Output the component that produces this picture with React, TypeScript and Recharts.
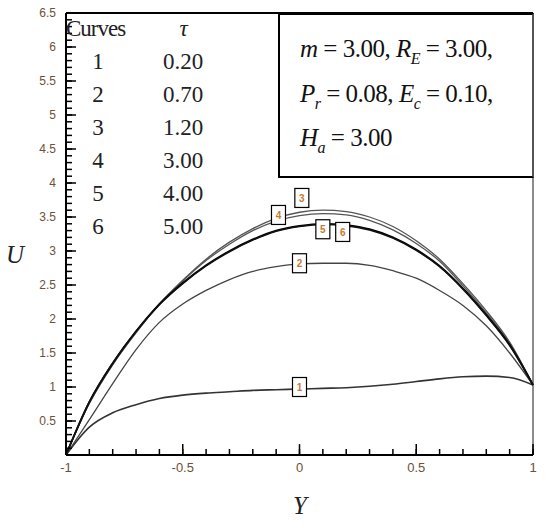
import { LineChart, Line, XAxis, YAxis, ReferenceLine, ReferenceDot } from 'recharts'

// Y positions across the channel
const yPos = [-1, -0.9, -0.8, -0.7, -0.6, -0.5, -0.4, -0.3, -0.2, -0.1, 0, 0.1, 0.2, 0.3, 0.4, 0.5, 0.6, 0.7, 0.8, 0.9, 1]

// velocity U for each curve (tau = 0.2, 0.7, 1.2, 3, 4, 5)
const u1 = [0, 0.41, 0.62, 0.74, 0.83, 0.88, 0.91, 0.93, 0.95, 0.96, 0.97, 0.98, 0.99, 1.01, 1.04, 1.08, 1.12, 1.15, 1.16, 1.14, 1.03]
const u2 = [0, 0.52, 1.05, 1.55, 1.95, 2.22, 2.42, 2.58, 2.7, 2.77, 2.81, 2.82, 2.82, 2.79, 2.71, 2.6, 2.42, 2.2, 1.9, 1.5, 1.03]
const u3 = [0, 0.76, 1.33, 1.8, 2.22, 2.57, 2.88, 3.13, 3.33, 3.48, 3.57, 3.6, 3.58, 3.5, 3.36, 3.15, 2.88, 2.52, 2.12, 1.66, 1.03]
const u4 = [0, 0.76, 1.33, 1.8, 2.22, 2.56, 2.86, 3.1, 3.3, 3.44, 3.52, 3.55, 3.53, 3.45, 3.31, 3.11, 2.85, 2.49, 2.09, 1.64, 1.03]
const u5 = [0, 0.78, 1.35, 1.82, 2.22, 2.53, 2.79, 3.0, 3.17, 3.3, 3.37, 3.4, 3.38, 3.32, 3.2, 3.02, 2.78, 2.45, 2.06, 1.62, 1.03]
const u6 = [0, 0.78, 1.35, 1.82, 2.21, 2.52, 2.78, 2.99, 3.16, 3.29, 3.36, 3.39, 3.37, 3.31, 3.19, 3.01, 2.77, 2.44, 2.05, 1.61, 1.03]

const curveNames = ['1', '2', '3', '4', '5', '6']
const tauValues = ['0.20', '0.70', '1.20', '3.00', '4.00', '5.00']

// curve number tags
const tagX = [0, 0, 0.01, -0.09, 0.1, 0.185]
const tagY = [1.0, 2.82, 3.78, 3.53, 3.32, 3.28]

const xMajor = [-1, -0.5, 0, 0.5, 1]
const yMajor = [0.5, 1, 1.5, 2, 2.5, 3, 3.5, 4, 4.5, 5, 5.5, 6, 6.5]

const data = yPos.map((y, i) => ({ y, c1: u1[i], c2: u2[i], c3: u3[i], c4: u4[i], c5: u5[i], c6: u6[i] }))

const xMinor: number[] = []
for (let i = -10; i <= 10; i++) xMinor.push(i / 10)
const yMinor: number[] = []
for (let i = 0; i <= 65; i++) yMinor.push(i / 10)

const isMajor = (v: number, list: number[]) => list.some((m) => Math.abs(m - v) < 1e-6)

const tickColor = '#6e5038'
const tickFont = { fontSize: 12, fontFamily: 'Liberation Sans, Arial', fill: tickColor }
const tickStroke = { stroke: '#000', strokeWidth: 1.5 }

const makeTag = (label: string) => (p: any) => (
  <g>
    <rect x={p.cx - 7} y={p.cy - 9.5} width={14} height={19} fill="#fff" stroke="#000" strokeWidth={1.2} />
    <text x={p.cx} y={p.cy + 4} textAnchor="middle" fontSize={10} fontWeight="bold" fontFamily="Liberation Sans, Arial" fill="#c87a30">
      {label}
    </text>
  </g>
)

const serif = 'Liberation Serif, Times New Roman, serif'
const subStyle = { fontSize: 16, position: 'relative' as const, top: 7, lineHeight: 0, verticalAlign: 'baseline' }

export default function App() {
  return (
    <div style={{ position: 'absolute', left: 0, top: 0, width: 550, height: 530, background: '#fff' }}>
      <LineChart width={550} height={530} data={data} margin={{ top: 13, right: 17, bottom: 0, left: 0 }}>
        {/* negative tickSize points the tick marks into the plot */}
        <XAxis
          dataKey="y"
          type="number"
          domain={[-1, 1]}
          ticks={xMinor}
          interval={0}
          tickSize={-6}
          tickMargin={14}
          tickFormatter={(v: number) => (isMajor(v, xMajor) ? String(v) : '')}
          tick={{ ...tickFont, fontSize: 13 }}
          axisLine={{ stroke: '#000', strokeWidth: 2 }}
          tickLine={tickStroke}
          height={75}
        />
        <YAxis
          type="number"
          domain={[0, 6.5]}
          ticks={yMinor}
          interval={0}
          tickSize={-6}
          tickMargin={16}
          tickFormatter={(v: number) => (isMajor(v, yMajor) ? String(v) : '')}
          tick={tickFont}
          axisLine={{ stroke: '#000', strokeWidth: 2 }}
          tickLine={tickStroke}
          width={66}
        />
        <ReferenceLine y={6.5} stroke="#000" strokeWidth={2} />
        <ReferenceLine x={1} stroke="#666" strokeWidth={1.5} />
        {/* longer marks at the labelled ticks */}
        {xMajor.map((v) => (
          <ReferenceLine key={'xt' + v} segment={[{ x: v, y: 0 }, { x: v, y: 0.16 }]} stroke="#000" strokeWidth={1.5} />
        ))}
        {yMajor.map((v) => (
          <ReferenceLine key={'yt' + v} segment={[{ x: -1, y: v }, { x: -0.957, y: v }]} stroke="#000" strokeWidth={1.5} />
        ))}
        <Line dataKey="c1" type="monotone" stroke="#333" strokeWidth={1.6} dot={false} isAnimationActive={false} />
        <Line dataKey="c2" type="monotone" stroke="#444" strokeWidth={1.3} dot={false} isAnimationActive={false} />
        <Line dataKey="c3" type="monotone" stroke="#555" strokeWidth={1.3} dot={false} isAnimationActive={false} />
        <Line dataKey="c4" type="monotone" stroke="#555" strokeWidth={1.3} dot={false} isAnimationActive={false} />
        <Line dataKey="c5" type="monotone" stroke="#000" strokeWidth={1.8} dot={false} isAnimationActive={false} />
        <Line dataKey="c6" type="monotone" stroke="#111" strokeWidth={1.6} dot={false} isAnimationActive={false} />
        {curveNames.map((n, i) => (
          <ReferenceDot key={n} x={tagX[i]} y={tagY[i]} r={7} shape={makeTag(n)} />
        ))}
      </LineChart>

      {/* curve table */}
      <div style={{ position: 'absolute', left: 66, top: 12, fontFamily: serif, fontSize: 23, color: '#222', lineHeight: '33px' }}>
        <div style={{ display: 'flex' }}>
          <span style={{ width: 100, letterSpacing: -1 }}>Curves</span>
          <span style={{ width: 35, textAlign: 'center', fontStyle: 'italic' }}>τ</span>
        </div>
        {curveNames.map((n, i) => (
          <div key={n} style={{ display: 'flex' }}>
            <span style={{ width: 64, textAlign: 'center' }}>{n}</span>
            <span style={{ width: 106, textAlign: 'center' }}>{tauValues[i]}</span>
          </div>
        ))}
      </div>

      {/* parameter box */}
      <div
        style={{
          position: 'absolute',
          left: 278,
          top: 13,
          width: 256,
          height: 165,
          border: '2px solid #000',
          borderRightColor: '#555',
          background: '#fff',
          fontFamily: serif,
          fontSize: 25,
          color: '#111',
          boxSizing: 'border-box',
          whiteSpace: 'nowrap',
        }}
      >
        <div style={{ position: 'absolute', left: 20, top: 20, letterSpacing: -0.5 }}>
          <i>m</i> = 3.00, <i>R</i><span style={subStyle}><i>E</i></span> = 3.00,
        </div>
        <div style={{ position: 'absolute', left: 20, top: 65, letterSpacing: -0.5 }}>
          <i>P</i><span style={subStyle}><i>r</i></span> = 0.08, <i>E</i><span style={subStyle}><i>c</i></span> = 0.10,
        </div>
        <div style={{ position: 'absolute', left: 20, top: 109, letterSpacing: -0.5 }}>
          <i>H</i><span style={subStyle}><i>a</i></span> = 3.00
        </div>
      </div>

      {/* axis titles */}
      <div style={{ position: 'absolute', left: 6, top: 241, fontFamily: serif, fontStyle: 'italic', fontSize: 25, color: '#222' }}>U</div>
      <div style={{ position: 'absolute', left: 293, top: 492, fontFamily: serif, fontStyle: 'italic', fontSize: 25, color: '#222' }}>Y</div>
    </div>
  )
}
